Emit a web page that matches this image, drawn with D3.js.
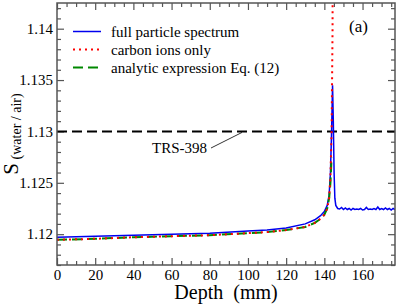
<!DOCTYPE html>
<html>
<head>
<meta charset="utf-8">
<script src="https://cdn.jsdelivr.net/npm/d3@7"></script>
</head>
<body style="margin:0; background:#fff">
<div id="vis"></div>
<script>
// frame
const FRAME_WIDTH = 399;
const FRAME_HEIGHT = 304;
const MARGINS = {left: 57, right: 4, top: 3, bottom: 39};
const VIS_WIDTH = FRAME_WIDTH - MARGINS.left - MARGINS.right;
const VIS_HEIGHT = FRAME_HEIGHT - MARGINS.top - MARGINS.bottom;
const FONT = "'Liberation Serif', 'Times New Roman', Tinos";

// full particle spectrum (depth in mm, stopping power ratio)
const fullDepth = [0, 20, 40, 60, 80, 100, 110, 120, 130, 135, 138, 140, 141.5, 142.5, 143.2, 143.8, 144.3, 144.7, 145.1, 145.5, 146, 147,
                   148, 149, 150, 151, 152, 153, 154, 155, 156, 157, 158, 159, 160, 161, 162, 163, 164, 165, 166, 167, 168, 169, 170, 171, 172, 173, 174, 175, 176, 177];
const fullValue = [1.1197, 1.1198, 1.1199, 1.1200, 1.1201, 1.1203, 1.1204, 1.1206, 1.1210, 1.1214, 1.1218, 1.1222, 1.1228, 1.1238, 1.1260, 1.1300, 1.1345, 1.1310, 1.1260, 1.1235, 1.1228, 1.1225,
                   1.12245, 1.1226, 1.1224, 1.12255, 1.1224, 1.1225, 1.12235, 1.1225, 1.1224, 1.12245, 1.1224, 1.1225, 1.12235, 1.1224, 1.1226, 1.1224, 1.12245, 1.1224, 1.1225, 1.1224, 1.12265, 1.1224, 1.1225, 1.1224, 1.12255, 1.1224, 1.1225, 1.12235, 1.1225, 1.1224];

// carbon ions only
const carbonDepth = [0, 20, 40, 60, 80, 100, 110, 120, 130, 135, 138, 140, 141.5, 142.5, 143.2, 143.8, 144.3, 144.4];
const carbonValue = [1.11945, 1.11955, 1.1197, 1.1198, 1.1199, 1.1201, 1.1202, 1.1204, 1.1207, 1.1211, 1.1215, 1.1219, 1.1225, 1.1235, 1.1256, 1.1300, 1.1400, 1.1500];

// analytic expression Eq. (12)
const analyticDepth = [0, 20, 40, 60, 80, 100, 110, 120, 130, 135, 138, 140, 141.5, 142.5, 143.2, 143.8];
const analyticValue = [1.11945, 1.11955, 1.1197, 1.1198, 1.1199, 1.1201, 1.1202, 1.1204, 1.1207, 1.1211, 1.1215, 1.1219, 1.1225, 1.1235, 1.1250, 1.1275];

const TRS_VALUE = 1.13;

const X_MAJOR = [0, 20, 40, 60, 80, 100, 120, 140, 160];
const Y_MAJOR = [1.12, 1.125, 1.13, 1.135, 1.14];

const legendLabels = ["full particle spectrum", "carbon ions only", "analytic expression Eq. (12)"];

const FRAME = d3.select("#vis")
  .append("svg")
    .attr("width", FRAME_WIDTH)
    .attr("height", FRAME_HEIGHT);

const X_SCALE = d3.scaleLinear().domain([0, 177]).range([MARGINS.left, MARGINS.left + VIS_WIDTH]);
const Y_SCALE = d3.scaleLinear().domain([1.117, 1.1425]).range([MARGINS.top + VIS_HEIGHT, MARGINS.top]);

const AXIS_COLOR = "#555";

// minor tick values
const xMinor = d3.range(0, 178, 5).filter(d => d % 20 !== 0);
const yMinor = d3.range(1117, 1143, 1).map(d => d / 1000).filter(d => !Y_MAJOR.some(m => Math.abs(m - d) < 1e-6));

function styleAxis(g) {
  g.attr("font-size", "15px");
  g.select(".domain").remove();
  g.selectAll(".tick line").attr("stroke", AXIS_COLOR).attr("stroke-width", 1.2);
  g.selectAll(".tick text").attr("fill", "#000").style("font-family", FONT);
}

// bottom (ticks point inward)
FRAME.append("g")
  .attr("transform", "translate(0," + (MARGINS.top + VIS_HEIGHT) + ")")
  .call(d3.axisBottom(X_SCALE).tickValues(X_MAJOR).tickSize(-7).tickPadding(4).tickFormat(d3.format("d")))
  .call(styleAxis);
FRAME.append("g")
  .attr("transform", "translate(0," + (MARGINS.top + VIS_HEIGHT) + ")")
  .call(d3.axisBottom(X_SCALE).tickValues(xMinor).tickSize(-4).tickFormat(""))
  .call(styleAxis);

// top
FRAME.append("g")
  .attr("transform", "translate(0," + MARGINS.top + ")")
  .call(d3.axisTop(X_SCALE).tickValues(X_MAJOR).tickSize(-7).tickFormat(""))
  .call(styleAxis);
FRAME.append("g")
  .attr("transform", "translate(0," + MARGINS.top + ")")
  .call(d3.axisTop(X_SCALE).tickValues(xMinor).tickSize(-4).tickFormat(""))
  .call(styleAxis);

// left
FRAME.append("g")
  .attr("transform", "translate(" + MARGINS.left + ",0)")
  .call(d3.axisLeft(Y_SCALE).tickValues(Y_MAJOR).tickSize(-7).tickPadding(4).tickFormat(d => String(+d.toFixed(3))))
  .call(styleAxis);
FRAME.append("g")
  .attr("transform", "translate(" + MARGINS.left + ",0)")
  .call(d3.axisLeft(Y_SCALE).tickValues(yMinor).tickSize(-4).tickFormat(""))
  .call(styleAxis);

// right
FRAME.append("g")
  .attr("transform", "translate(" + (MARGINS.left + VIS_WIDTH) + ",0)")
  .call(d3.axisRight(Y_SCALE).tickValues(Y_MAJOR).tickSize(-7).tickFormat(""))
  .call(styleAxis);
FRAME.append("g")
  .attr("transform", "translate(" + (MARGINS.left + VIS_WIDTH) + ",0)")
  .call(d3.axisRight(Y_SCALE).tickValues(yMinor).tickSize(-4).tickFormat(""))
  .call(styleAxis);

// clip to plot area
FRAME.append("clipPath").attr("id", "clip")
  .append("rect")
    .attr("x", MARGINS.left).attr("y", MARGINS.top)
    .attr("width", VIS_WIDTH).attr("height", VIS_HEIGHT);

const plot = FRAME.append("g").attr("clip-path", "url(#clip)");

// TRS-398 reference
plot.append("line")
  .attr("x1", X_SCALE(0)).attr("x2", X_SCALE(177))
  .attr("y1", Y_SCALE(TRS_VALUE)).attr("y2", Y_SCALE(TRS_VALUE))
  .attr("stroke", "#000").attr("stroke-width", 2)
  .attr("stroke-dasharray", "10,5");

const line = d3.line().x(d => X_SCALE(d[0])).y(d => Y_SCALE(d[1]));

plot.append("path")
  .datum(d3.zip(fullDepth, fullValue))
  .attr("d", line)
  .attr("fill", "none").attr("stroke", "#0000ee").attr("stroke-width", 1.5);

plot.append("path")
  .datum(d3.zip(analyticDepth, analyticValue))
  .attr("d", line)
  .attr("fill", "none").attr("stroke", "#008800").attr("stroke-width", 2)
  .attr("stroke-dasharray", "10,5");

plot.append("path")
  .datum(d3.zip(carbonDepth, carbonValue))
  .attr("d", line)
  .attr("fill", "none").attr("stroke", "#ff0000").attr("stroke-width", 2)
  .attr("stroke-dasharray", "2,4");

// frame
FRAME.append("rect")
  .attr("x", MARGINS.left).attr("y", MARGINS.top)
  .attr("width", VIS_WIDTH).attr("height", VIS_HEIGHT)
  .attr("fill", "none").attr("stroke", AXIS_COLOR).attr("stroke-width", 1.5);

// legend
const legendStyles = [
  {color: "#0000ee", dash: null, width: 1.5},
  {color: "#ff0000", dash: "2,4", width: 2},
  {color: "#008800", dash: "10,5", width: 2}
];
const legend = FRAME.append("g");
legendLabels.forEach((lab, i) => {
  const y = 31.5 + i * 18;
  legend.append("line")
    .attr("x1", 73).attr("x2", 101).attr("y1", y).attr("y2", y)
    .attr("stroke", legendStyles[i].color)
    .attr("stroke-width", legendStyles[i].width)
    .attr("stroke-dasharray", legendStyles[i].dash);
  legend.append("text")
    .attr("x", 111).attr("y", y + 5)
    .attr("font-size", "15px")
    .style("font-family", FONT)
    .text(lab);
});

// panel label
FRAME.append("text")
  .attr("x", 349).attr("y", 32)
  .attr("font-size", "17px")
  .style("font-family", FONT)
  .text("(a)");

// TRS-398 annotation
FRAME.append("text")
  .attr("x", 152).attr("y", 153)
  .attr("font-size", "15px")
  .style("font-family", FONT)
  .text("TRS-398");
FRAME.append("line")
  .attr("x1", 211).attr("y1", 148).attr("x2", 242).attr("y2", Y_SCALE(TRS_VALUE) + 1)
  .attr("stroke", "#000").attr("stroke-width", 0.8);

// axis titles
FRAME.append("text")
  .attr("x", MARGINS.left + VIS_WIDTH / 2).attr("y", 299)
  .attr("text-anchor", "middle")
  .attr("font-size", "20px")
  .style("font-family", FONT)
  .style("white-space", "pre")
  .text("Depth  (mm)");

const yTitle = FRAME.append("text")
  .attr("transform", "translate(18," + (MARGINS.top + VIS_HEIGHT / 2) + ") rotate(-90)")
  .attr("text-anchor", "middle")
  .style("font-family", FONT);
yTitle.append("tspan").attr("font-size", "21px").text("S");
yTitle.append("tspan").attr("font-size", "14px").attr("dy", 3).text(" (water / air)");
</script>
</body>
</html>
